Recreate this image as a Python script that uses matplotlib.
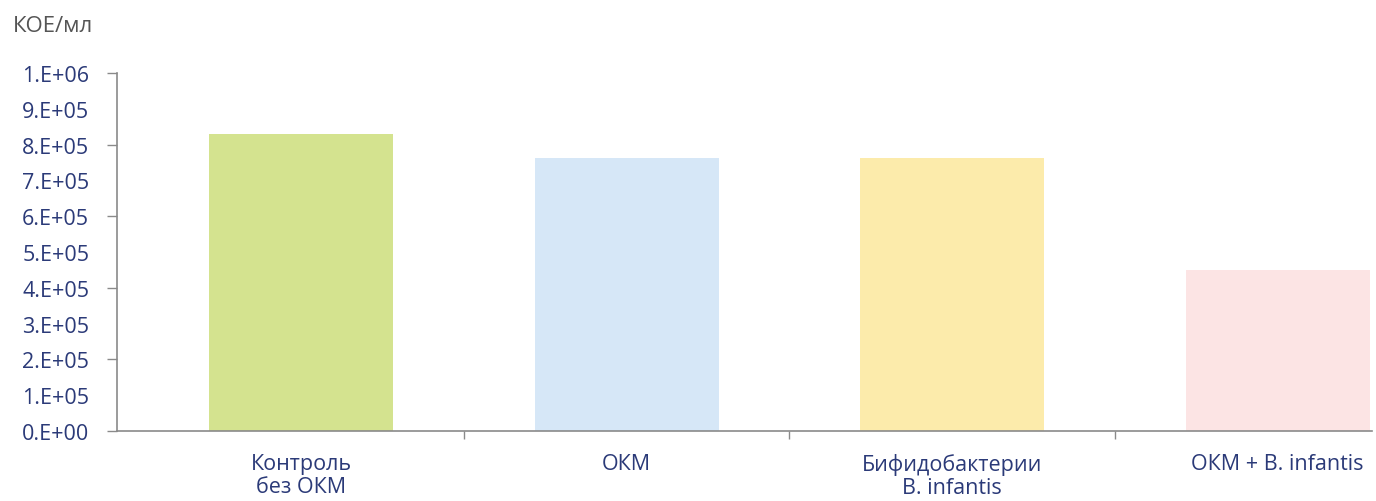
import matplotlib.pyplot as plt
import numpy as np
from matplotlib.ticker import FixedLocator

plt.rcParams['font.family'] = ['Open Sans', 'DejaVu Sans']

categories = ["Контроль\nбез ОКМ", "ОКМ", "Бифидобактерии\nB. infantis", "ОКМ + B. infantis"]
values = [8.3e5, 7.63e5, 7.63e5, 4.5e5]
colors = ["#d4e38f", "#d6e7f7", "#fcebab", "#fce4e4"]
ytick_vals = np.arange(0, 1.01e6, 1e5)
ytick_labels = ["0.E+00", "1.E+05", "2.E+05", "3.E+05", "4.E+05", "5.E+05",
                "6.E+05", "7.E+05", "8.E+05", "9.E+05", "1.E+06"]

text_col = "#2b3a78"
axis_col = "#8a8a8a"

fig = plt.figure(figsize=(13.76, 5.02), dpi=100)
ax = fig.add_axes([117/1376, 1 - 432/502, (1372 - 117)/1376, (432 - 74)/502])

x = np.arange(len(categories))
ax.bar(x, values, width=0.566, color=colors)

ax.set_xlim(-0.566, 3.29)
ax.set_ylim(0, 1e6)

# labels every 1e5, tick marks only every 2e5
ax.yaxis.remove_overlapping_locs = False
ax.set_yticks(ytick_vals)
ax.set_yticklabels(ytick_labels)
ax.yaxis.set_minor_locator(FixedLocator(np.arange(0, 1.01e6, 2e5)))
ax.tick_params(axis='y', which='major', length=0, pad=20, labelsize=15.5, labelcolor=text_col)
ax.tick_params(axis='y', which='minor', length=7, width=1, color=axis_col)

# category labels centred, tick marks between categories
ax.set_xticks(x)
ax.set_xticklabels(categories)
ax.xaxis.set_minor_locator(FixedLocator([0.5, 1.5, 2.5]))
ax.tick_params(axis='x', which='major', length=0, pad=16, labelsize=15.5, labelcolor=text_col)
ax.tick_params(axis='x', which='minor', length=6, width=1, color=axis_col)
for lab in ax.get_xticklabels():
    lab.set_linespacing(1.1)

for s in ['top', 'right']:
    ax.spines[s].set_visible(False)
for s in ['left', 'bottom']:
    ax.spines[s].set_color(axis_col)
    ax.spines[s].set_linewidth(1.2)

fig.text(13/1376, 1 - 27/502, "КОЕ/мл", fontsize=16, color="#555555", va='center', ha='left')

fig.savefig("out.png", dpi=100)
